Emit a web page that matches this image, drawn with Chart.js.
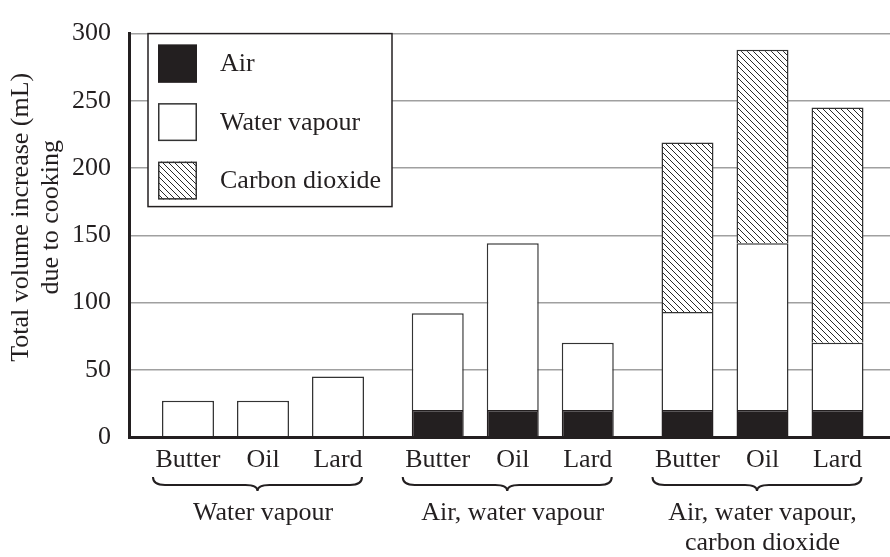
<!DOCTYPE html>
<html>
<head>
<meta charset="utf-8">
<script src="https://cdn.jsdelivr.net/npm/chart.js@4.4.1/dist/chart.umd.min.js"></script>
<style>
html,body{margin:0;padding:0;background:#fff;}
#wrap{width:890px;height:557px;position:relative;}
</style>
</head>
<body>
<div id="wrap"><canvas id="c" width="890" height="557"></canvas></div>
<script>
// ---- data ----
const groupLabels = ['Water vapour', 'Air, water vapour', ['Air, water vapour,', 'carbon dioxide']];
const fats = ['Butter', 'Oil', 'Lard'];
const components = ['Air', 'Water vapour', 'Carbon dioxide'];
const yTitle = ['Total volume increase (mL)', 'due to cooking'];
const yTicks = [0, 50, 100, 150, 200, 250, 300];

// values (mL) for each fat across the three gas groups
const airButter   = [null, 20, 20];
const airOil      = [null, 20, 20];
const airLard     = [null, 20, 20];
const waterButter = [27, 72, 73];
const waterOil    = [27, 124, 124];
const waterLard   = [45, 50, 50];
const co2Butter   = [null, null, 126];
const co2Oil      = [null, null, 144];
const co2Lard     = [null, null, 175];

const seriesByFat = [
  [airButter, waterButter, co2Butter],
  [airOil, waterOil, co2Oil],
  [airLard, waterLard, co2Lard]
];

// ---- styles ----
const serif = "'Liberation Serif', 'Times New Roman', Times, serif";
const ink = '#231f20';
const edge = '#333333';

const canvas = document.getElementById('c');
const mainCtx = canvas.getContext('2d');

function makeHatch() {
  const p = document.createElement('canvas');
  p.width = 6; p.height = 6;
  const g = p.getContext('2d');
  g.fillStyle = '#ffffff';
  g.fillRect(0, 0, 6, 6);
  g.strokeStyle = '#2a2a2a';
  g.lineWidth = 1;
  g.beginPath();
  g.moveTo(-1, -1); g.lineTo(7, 7);
  g.moveTo(-1, 5); g.lineTo(1, 7);
  g.moveTo(5, -1); g.lineTo(7, 1);
  g.stroke();
  return mainCtx.createPattern(p, 'repeat');
}
const hatch = makeHatch();
const fills = [ink, '#ffffff', hatch];

const datasets = [];
fats.forEach((fat, f) => {
  seriesByFat[f].forEach((vals, c) => {
    datasets.push({
      label: components[c],
      stack: fat,
      data: vals.map((v, i) => ({ x: i, y: v })),
      backgroundColor: fills[c],
      borderColor: c === 0 ? ink : edge,
      borderWidth: 1.5,
      categoryPercentage: 0.901,
      barPercentage: 0.693
    });
  });
});

// ---- plugins ----
const shiftTitle = {
  id: 'shiftTitle',
  beforeDraw(chart) {
    const s = chart.scales.y;
    if (s && !s._shiftPatched) {
      const orig = s.drawTitle;
      s.drawTitle = function () {
        const ctx = this.ctx;
        ctx.save();
        ctx.translate(0, -18);
        orig.call(this);
        ctx.restore();
      };
      s._shiftPatched = true;
    }
  }
};

const boxLegend = {
  id: 'boxLegend',
  afterDatasetsDraw(chart) {
    const ctx = chart.ctx;
    const a = chart.chartArea;
    const x0 = a.left + 19, y0 = a.top, w = 244, h = 173;
    ctx.save();
    ctx.fillStyle = '#ffffff';
    ctx.fillRect(x0, y0, w, h);
    ctx.strokeStyle = ink;
    ctx.lineWidth = 1.5;
    ctx.strokeRect(x0, y0, w, h);
    ctx.font = '26px ' + serif;
    ctx.textBaseline = 'middle';
    ctx.textAlign = 'left';
    components.forEach((name, k) => {
      const ds = chart.data.datasets.find(d => d.label === name);
      const sx = x0 + 10, sy = y0 + 11 + k * 58.5;
      ctx.fillStyle = ds.backgroundColor;
      ctx.fillRect(sx, sy, 39, 38);
      ctx.strokeStyle = ds.borderColor;
      ctx.lineWidth = 1.5;
      ctx.strokeRect(sx + 0.75, sy + 0.75, 37.5, 36.5);
      ctx.fillStyle = ink;
      ctx.fillText(name, x0 + 72, sy + 20);
    });
    ctx.restore();
  }
};

const fatLabels = {
  id: 'fatLabels',
  afterDraw(chart) {
    const ctx = chart.ctx;
    const a = chart.chartArea;
    ctx.save();
    ctx.font = '26px ' + serif;
    ctx.fillStyle = ink;
    ctx.textAlign = 'center';
    ctx.textBaseline = 'middle';
    const metas = fats.map(fat => {
      const idx = chart.data.datasets.findIndex(d => d.stack === fat && d.label === components[1]);
      return chart.getDatasetMeta(idx);
    });
    metas.forEach((meta, f) => {
      meta.data.forEach(bar => ctx.fillText(fats[f], bar.x, a.bottom + 23));
    });
    // braces under each group
    ctx.strokeStyle = ink;
    ctx.lineWidth = 2;
    const n = groupLabels.length;
    for (let g = 0; g < n; g++) {
      const first = metas[0].data[g];
      const last = metas[metas.length - 1].data[g];
      const x0 = first.x - first.width / 2 - 9;
      const x1 = last.x + last.width / 2 - 2;
      const xc = (x0 + x1) / 2;
      const yTop = a.bottom + 40, yMid = a.bottom + 48, yTip = a.bottom + 54;
      ctx.beginPath();
      ctx.moveTo(x0, yTop);
      ctx.quadraticCurveTo(x0, yMid, x0 + 12, yMid);
      ctx.lineTo(xc - 12, yMid);
      ctx.quadraticCurveTo(xc, yMid, xc, yTip);
      ctx.quadraticCurveTo(xc, yMid, xc + 12, yMid);
      ctx.lineTo(x1 - 12, yMid);
      ctx.quadraticCurveTo(x1, yMid, x1, yTop);
      ctx.stroke();
    }
    ctx.restore();
  }
};

new Chart(canvas, {
  type: 'bar',
  data: { datasets },
  options: {
    responsive: false,
    animation: false,
    events: [],
    layout: { padding: { top: 24, left: 0, right: 0, bottom: 0 } },
    plugins: {
      legend: { display: false },
      tooltip: { enabled: false }
    },
    scales: {
      x: {
        type: 'linear',
        offset: false,
        bounds: 'data',
        min: -0.5365,
        max: 2.5105,
        afterBuildTicks: s => { s.ticks = groupLabels.map((_, i) => ({ value: i })); },
        afterFit: s => { s.height = 120; s.paddingLeft = 0; s.paddingRight = 0; },
        grid: { display: false, drawTicks: false },
        border: { display: true, color: ink, width: 3, z: 1 },
        ticks: {
          autoSkip: false,
          maxRotation: 0,
          padding: 62,
          color: ink,
          font: { family: serif, size: 26, lineHeight: 1.12 },
          callback: v => groupLabels[v]
        }
      },
      y: {
        stacked: true,
        min: yTicks[0],
        max: yTicks[yTicks.length - 1],
        afterBuildTicks: s => { s.ticks = yTicks.map(v => ({ value: v })); },
        afterFit: s => { s.width = 129; },
        grid: { color: '#a0a0a0', lineWidth: 1.5, drawTicks: false },
        border: { display: true, color: ink, width: 3, z: 1 },
        ticks: {
          padding: 18,
          color: ink,
          font: { family: serif, size: 26 }
        },
        title: {
          display: true,
          text: yTitle,
          color: ink,
          padding: { top: 6, bottom: 0 },
          font: { family: serif, size: 26, lineHeight: 1.15 }
        }
      }
    }
  },
  plugins: [shiftTitle, boxLegend, fatLabels]
});
</script>
</body>
</html>
